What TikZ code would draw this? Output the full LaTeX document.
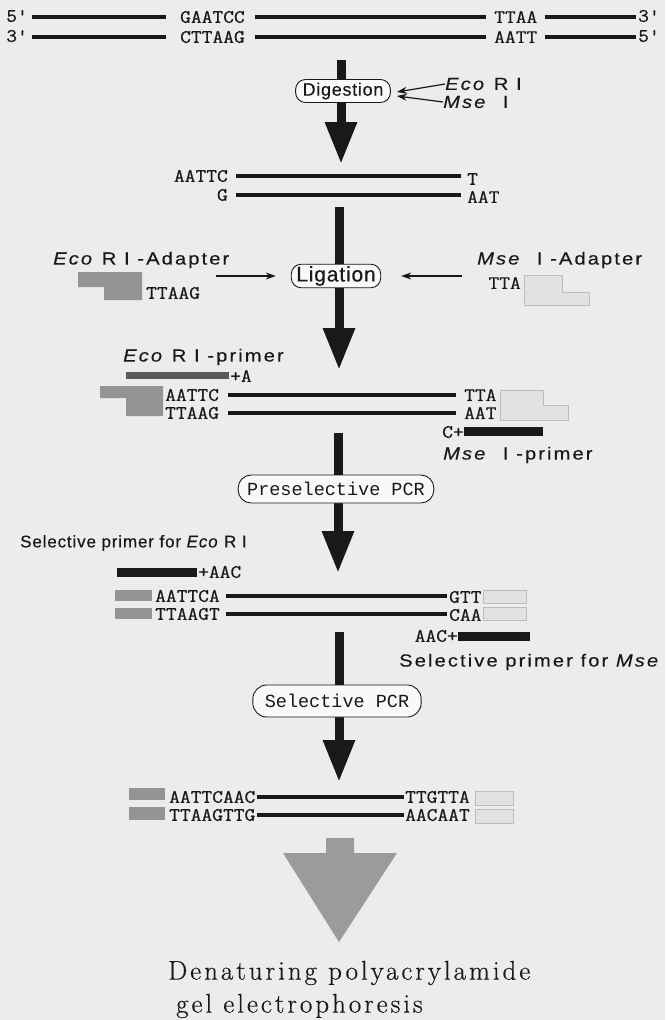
\documentclass[tikz,border=0pt]{standalone}
\usepackage{fontspec}
\setmainfont{Latin Modern Roman}
\newfontfamily\seqfont[FakeStretch=1.1,FakeBold=0.6]{Latin Modern Mono}
\newfontfamily\lblfont[FakeStretch=1.15,LetterSpace=12,FakeBold=0.3]{Liberation Sans}
\newfontfamily\narrowfont[LetterSpace=5,FakeBold=0.3]{Liberation Sans}
\newfontfamily\boxfont[LetterSpace=4,FakeBold=0.3]{Liberation Sans}
\newfontfamily\pcrfont{Liberation Mono}
\newfontfamily\gelfont[LetterSpace=11,FakeBold=0.5]{Latin Modern Roman}
\usetikzlibrary{arrows.meta,calc}
\definecolor{bg}{RGB}{236,236,236}
\definecolor{dkblock}{RGB}{148,148,148}
\definecolor{ltblock}{RGB}{226,226,226}
\definecolor{ltborder}{RGB}{188,188,188}
\definecolor{primerg}{RGB}{90,90,90}
\definecolor{bigg}{RGB}{155,155,155}
\definecolor{ink}{RGB}{25,25,25}
\tikzset{
  seq/.style={font=\seqfont\fontsize{19}{21}\selectfont, inner sep=0pt, text=ink},
  lbl/.style={font=\lblfont\fontsize{17.5}{19}\selectfont, inner sep=0pt, text=ink},
  narrowlbl/.style={font=\narrowfont\fontsize{17}{19}\selectfont, inner sep=0pt, text=ink},
  boxlbl/.style={font=\boxfont\fontsize{18}{20}\selectfont, text=ink},
  pcr/.style={font=\pcrfont\fontsize{18.5}{20}\selectfont},
  gel/.style={font=\gelfont\fontsize{27}{29}\selectfont, inner sep=0pt, text=ink},
  dna/.style={line width=3.1pt, draw=ink},
  bigarrow/.style={line width=9pt, draw=ink, -{Triangle[width=30pt,length=42pt]}},
  stepbox/.style={draw=ink, line width=0.9pt, rounded corners=10pt, fill=white!70!bg,
     inner xsep=8pt, inner ysep=2pt, minimum height=23pt, text=ink},
  thinarrow/.style={line width=1.2pt, draw=ink, -{Stealth[length=10pt,width=7pt]}},
  darkblk/.style={fill=dkblock},
  lightblk/.style={fill=ltblock, draw=ltborder, line width=0.8pt},
}
\begin{document}
\begin{tikzpicture}[x=1pt,y=-1pt]
\fill[bg] (0,0) rectangle (665,1020);
\useasboundingbox (0,0) rectangle (665,1020);

% ---------- Row 1: genomic DNA ----------
\node[seq,anchor=east] (p5a) at (28,16) {5'};
\node[seq,anchor=west] (gaatcc) at (180,17) {GAATCC};
\node[seq,anchor=west] (ttaa) at (494,17) {TTAA};
\node[seq,anchor=west] (p3a) at (638,16) {3'};
\node[seq,anchor=east] (p3b) at (28,36) {3'};
\node[seq,anchor=west] (cttaag) at (180,37) {CTTAAG};
\node[seq,anchor=west] (aatt) at (494,37) {AATT};
\node[seq,anchor=west] (p5b) at (638,36) {5'};
\draw[dna,shorten <=4pt,shorten >=14pt] (p5a.east |- gaatcc.west) -- (gaatcc.west);
\draw[dna,shorten <=10pt,shorten >=8pt] (gaatcc.east) -- (gaatcc.east -| ttaa.west);
\draw[dna,shorten <=8pt,shorten >=2pt] (ttaa.east) -- (ttaa.east -| p3a.west);
\draw[dna,shorten <=4pt,shorten >=14pt] (p3b.east |- cttaag.west) -- (cttaag.west);
\draw[dna,shorten <=10pt,shorten >=8pt] (cttaag.east) -- (cttaag.east -| aatt.west);
\draw[dna,shorten <=8pt,shorten >=2pt] (aatt.east) -- (aatt.east -| p5b.west);

% ---------- Digestion ----------
\coordinate (a1s) at (341,60);
\coordinate (a1e) at (341,164);
\draw[bigarrow] (a1s) -- (a1e);
\node[stepbox,boxlbl,inner xsep=7pt,inner ysep=2pt] (dig) at (343,91) {Digestion};
\node[lbl,anchor=west] (eco1) at (445,84) {\textit{Eco} R I};
\node[lbl,anchor=west] (mse1) at (443,102) {\textit{Mse}\ \ I};
\draw[thinarrow] (eco1.west) -- ($(dig.east)+(6,1)$);
\draw[thinarrow] (mse1.west) -- ($(dig.east)+(6,5)$);

% ---------- Row 2: fragment ----------
\node[seq,anchor=east] (r2a) at (228,176) {AATTC};
\node[seq,anchor=west] (r2t) at (467,179) {T};
\node[seq,anchor=east] (r2g) at (228,195) {G};
\node[seq,anchor=west] (r2aat) at (467,197) {AAT};
\draw[dna,shorten <=8pt,shorten >=6pt] (r2a.east) -- (r2a.east -| r2t.west);
\draw[dna,shorten <=8pt,shorten >=6pt] (r2g.east) -- (r2g.east -| r2aat.west);

% ---------- Ligation ----------
\coordinate (a2s) at (339,207);
\coordinate (a2e) at (339,370);
\draw[bigarrow] (a2s) -- (a2e);
\node[stepbox,boxlbl,font=\boxfont\fontsize{21}{23}\selectfont,inner xsep=5pt] (lig) at (336,276) {Ligation};
\node[lbl,anchor=west] (ecoad) at (53,260) {\textit{Eco} R I -Adapter};
\node[lbl,anchor=west] (msead) at (477,260) {\textit{Mse}\ \ I -Adapter};
\coordinate (ligL) at (216,276);
\coordinate (ligR) at (462,276);
\draw[thinarrow,shorten >=15pt] (ligL) -- (lig.west);
\draw[thinarrow,shorten >=20pt] (ligR) -- (lig.east);
\fill[darkblk] (78,272) -- (142,272) -- (142,300) -- (104,300) -- (104,287) -- (78,287) -- cycle;
\node[seq,anchor=west] (ttaag1) at (146,293) {TTAAG};
\filldraw[lightblk] (524,275) -- (562,275) -- (562,292) -- (589,292) -- (589,305) -- (524,305) -- cycle;
\node[seq,anchor=east] (tta1) at (521,283) {TTA};

% ---------- Row 3: ligated fragment + primers ----------
\node[lbl,anchor=west] (ecopr) at (123,357) {\textit{Eco} R I -primer};
\fill[primerg] (126,372) rectangle (229,379);
\node[seq,anchor=west] (plusA) at (230,376) {+A};
\fill[darkblk] (100,386) -- (163,386) -- (163,416) -- (126,416) -- (126,398) -- (100,398) -- cycle;
\node[seq,anchor=west] (r3a) at (165,395) {AATTC};
\node[seq,anchor=west] (r3b) at (165,413) {TTAAG};
\node[seq,anchor=west] (r3c) at (464,395) {TTA};
\node[seq,anchor=west] (r3d) at (464,413) {AAT};
\draw[dna,shorten <=9pt,shorten >=8pt] (r3a.east) -- (r3a.east -| r3c.west);
\draw[dna,shorten <=9pt,shorten >=8pt] (r3b.east) -- (r3b.east -| r3d.west);
\filldraw[lightblk] (500,390) -- (543,390) -- (543,405) -- (568,405) -- (568,420) -- (500,420) -- cycle;
\node[seq,anchor=east] (cplus) at (464,432) {C+};
\fill[ink] (464,427) rectangle (543,436);
\node[lbl,anchor=west] (msepr) at (443,455) {\textit{Mse}\ \ I -primer};

% ---------- Preselective PCR ----------
\coordinate (a3s) at (338,433);
\coordinate (a3e) at (338,573);
\draw[bigarrow] (a3s) -- (a3e);
\node[stepbox,pcr,rounded corners=13pt,minimum height=28pt,inner xsep=9pt] (prepcr) at (336,489) {Preselective PCR};

% ---------- Row 4 ----------
\node[narrowlbl,anchor=west] (selE) at (20,543) {Selective primer for \textit{Eco} R I};
\fill[ink] (117,568) rectangle (197,577);
\node[seq,anchor=west] (plusAAC) at (198,572) {+AAC};
\fill[darkblk] (115,590) rectangle (152,601);
\fill[darkblk] (115,608) rectangle (152,619);
\node[seq,anchor=west] (r4a) at (155,596) {AATTCA};
\node[seq,anchor=west] (r4b) at (155,614) {TTAAGT};
\node[seq,anchor=west] (r4c) at (449,597) {GTT};
\node[seq,anchor=west] (r4d) at (449,615) {CAA};
\draw[dna,shorten <=6pt,shorten >=2pt] (r4a.east) -- (r4a.east -| r4c.west);
\draw[dna,shorten <=6pt,shorten >=2pt] (r4b.east) -- (r4b.east -| r4d.west);
\filldraw[lightblk] (483,590) rectangle (526,603);
\filldraw[lightblk] (483,607) rectangle (526,620);
\node[seq,anchor=east] (aacplus) at (458,636) {AAC+};
\fill[ink] (458,632) rectangle (530,641);
\node[lbl,anchor=west] (selM) at (399,662) {Selective primer for \textit{Mse}};

% ---------- Selective PCR ----------
\coordinate (a4s) at (339,632);
\coordinate (a4e) at (339,782);
\draw[bigarrow] (a4s) -- (a4e);
\node[stepbox,pcr,rounded corners=14pt,minimum height=32pt,inner xsep=12pt] (selpcr) at (337,701) {Selective PCR};

% ---------- Row 5 ----------
\fill[darkblk] (129,788) rectangle (165,800);
\fill[darkblk] (129,807) rectangle (165,820);
\node[seq,anchor=west] (r5a) at (169,797) {AATTCAAC};
\node[seq,anchor=west] (r5b) at (169,815) {TTAAGTTG};
\node[seq,anchor=west] (r5c) at (405,797) {TTGTTA};
\node[seq,anchor=west] (r5d) at (405,815) {AACAAT};
\draw[dna,shorten <=1pt,shorten >=1pt] (r5a.east) -- (r5a.east -| r5c.west);
\draw[dna,shorten <=1pt,shorten >=1pt] (r5b.east) -- (r5b.east -| r5d.west);
\filldraw[lightblk] (475,791) rectangle (513,805);
\filldraw[lightblk] (475,809) rectangle (513,823);

% ---------- Big grey arrow ----------
\fill[bigg] (326,838) -- (354,838) -- (354,853) -- (397,853) -- (339,942) -- (283,853) -- (326,853) -- cycle;

% ---------- Caption ----------
\node[gel,anchor=west] (gel1) at (168,973) {Denaturing polyacrylamide};
\node[gel,anchor=west] (gel2) at (176,1006) {gel electrophoresis};
\end{tikzpicture}
\end{document}
